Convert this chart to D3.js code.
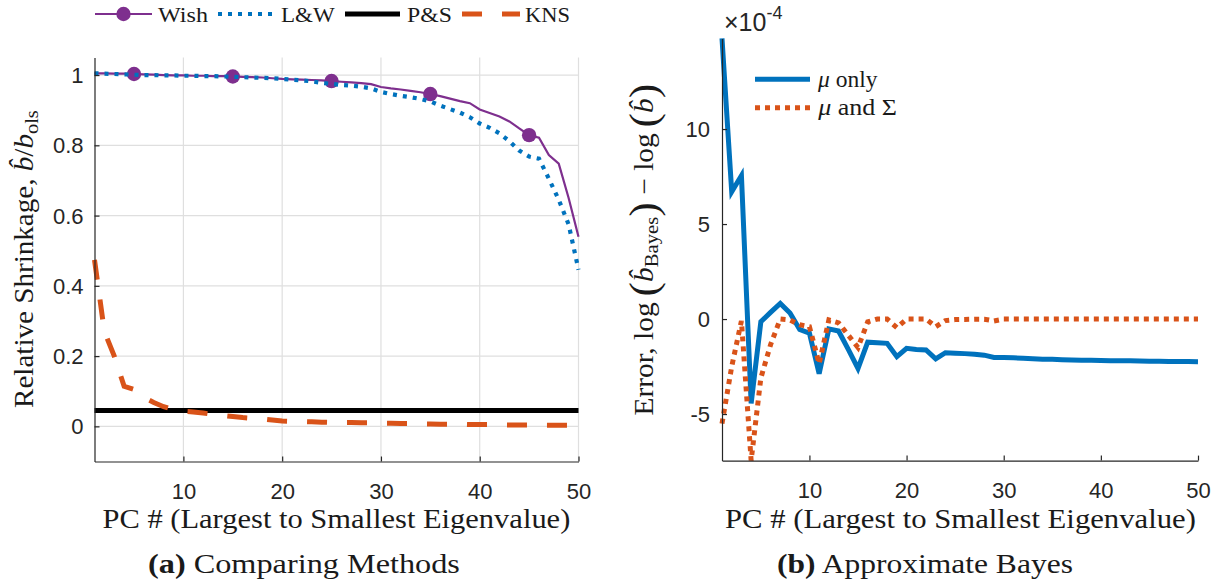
<!DOCTYPE html>
<html><head><meta charset="utf-8">
<script src="https://cdn.jsdelivr.net/npm/d3@7"></script>
<style>body{margin:0;background:#fff}svg{display:block}</style>
</head><body>
<svg id="c" width="1223" height="586"></svg>
<script>
// ---------- data ----------
const pcNumbers = d3.range(1, 51);
const wish = [1.005,1.005,1.004,1.004,1.003,1.002,1.001,1.000,0.999,0.999,
  0.998,0.998,0.997,0.997,0.996,0.995,0.994,0.993,0.991,0.989,
  0.988,0.987,0.986,0.985,0.983,0.981,0.979,0.977,0.974,0.966,
  0.962,0.959,0.955,0.951,0.946,0.940,0.933,0.926,0.920,0.902,
  0.892,0.882,0.868,0.848,0.829,0.822,0.772,0.748,0.650,0.540];
const wishMarkerPC = [5, 15, 25, 35, 45];
const lw = [1.005,1.004,1.003,1.002,1.001,1.000,1.000,0.999,0.999,0.998,
  0.998,0.997,0.997,0.996,0.995,0.994,0.993,0.992,0.991,0.989,
  0.987,0.985,0.982,0.978,0.975,0.972,0.970,0.967,0.962,0.952,
  0.946,0.941,0.937,0.932,0.925,0.913,0.903,0.893,0.880,0.862,
  0.850,0.834,0.812,0.785,0.768,0.762,0.705,0.645,0.575,0.446];
const pnsPC = [1, 50];
const pns = [0.045, 0.045];
const kns = [0.474,0.27,0.20,0.114,0.105,0.082,0.068,0.056,0.048,0.043,
  0.041,0.038,0.034,0.031,0.028,0.025,0.023,0.021,0.018,0.015,
  0.014,0.014,0.013,0.012,0.011,0.011,0.011,0.010,0.010,0.009,
  0.009,0.008,0.008,0.007,0.007,0.006,0.006,0.006,0.005,0.005,
  0.005,0.004,0.004,0.004,0.004,0.003,0.003,0.003,0.003,0.003];
// right panel, in units of 1e-4
const muOnly = [14.77,6.7,7.55,-4.44,-0.14,0.35,0.82,0.32,-0.55,-0.74,
  -2.88,-0.52,-0.63,-1.6,-2.6,-1.22,-1.25,-1.28,-1.98,-1.54,
  -1.6,-1.63,-2.1,-1.77,-1.8,-1.82,-1.85,-1.9,-2.02,-2.02,
  -2.04,-2.06,-2.09,-2.12,-2.12,-2.14,-2.16,-2.17,-2.17,-2.18,
  -2.19,-2.2,-2.2,-2.21,-2.22,-2.22,-2.23,-2.24,-2.24,-2.25];
const muSigma = [-5.5,-2.5,-0.1,-7.45,-3.1,-1.35,0,-0.05,-0.3,-0.4,
  -2.35,-0.05,-0.2,-0.85,-1.5,-0.15,0,0,-0.45,0,
  0,0,-0.4,-0.08,-0.03,-0.02,-0.01,-0.01,-0.1,0,
  0,0,0,0,0,0,0,0,0,0,
  0,0,0,0,0,0,0,0,0,0];
const xTicks = [10, 20, 30, 40, 50];
const yTicksA = [0, 0.2, 0.4, 0.6, 0.8, 1];
const yTickLabelsA = ["0", "0.2", "0.4", "0.6", "0.8", "1"];
const yTicksB = [-5, 0, 5, 10];
const yTickLabelsB = ["-5", "0", "5", "10"];
const legendA = ["Wish", "L&W", "P&S", "KNS"];

// ---------- setup ----------
const svg = d3.select("#c");
const serif = "'Liberation Serif','Times New Roman',serif";
const sans = "'Liberation Sans',Arial,Helvetica,sans-serif";
const axisCol = "#262626";
const C = {purple:"#7E2F8E", blue:"#0072BD", orange:"#D95319", black:"#000"};

const xA = d3.scaleLinear().domain([1, 50]).range([94.5, 578.5]);
const yA = d3.scaleLinear().domain([-0.1, 1.05]).range([461.5, 57.5]);
const xB = d3.scaleLinear().domain([1, 50]).range([722, 1198]);
const yB = d3.scaleLinear().domain([-7.45, 14.77]).range([460.6, 38.4]);

function placeText(parent, cx, base, rot, targetW, size, family, build) {
  const t = parent.append("text").attr("font-family", family).attr("font-size", size)
    .attr("fill", "#1a1a1a");
  build(t);
  const bb = t.node().getBBox();
  const s = targetW ? targetW / bb.width : 1;
  t.attr("transform", `translate(${cx},${base}) rotate(${rot}) scale(${s},1) translate(${-(bb.x + bb.width / 2)},0)`);
  return t;
}

// ---------- panel A ----------
const gA = svg.append("g");
gA.selectAll(".gx").data(xTicks).join("line")
  .attr("x1", d => xA(d)).attr("x2", d => xA(d)).attr("y1", yA.range()[0]).attr("y2", yA.range()[1])
  .attr("stroke", "#dfdfdf").attr("stroke-width", 1.2);
gA.selectAll(".gy").data(yTicksA).join("line")
  .attr("y1", d => yA(d)).attr("y2", d => yA(d)).attr("x1", xA.range()[0]).attr("x2", xA.range()[1])
  .attr("stroke", "#dfdfdf").attr("stroke-width", 1.2);

const lineA = vals => d3.line().x((d, i) => xA(pcNumbers[i])).y(d => yA(d))(vals);
gA.append("path").attr("d", lineA(wish)).attr("fill", "none").attr("stroke", C.purple).attr("stroke-width", 2.2);
gA.selectAll(".wm").data(wishMarkerPC).join("circle")
  .attr("cx", d => xA(d)).attr("cy", d => yA(wish[d - 1])).attr("r", 7.2).attr("fill", C.purple);
gA.append("path").attr("d", lineA(lw)).attr("fill", "none").attr("stroke", C.blue)
  .attr("stroke-width", 4.2).attr("stroke-dasharray", "4,6");
gA.append("path").attr("d", d3.line().x((d, i) => xA(pnsPC[i])).y(d => yA(d))(pns))
  .attr("fill", "none").attr("stroke", C.black).attr("stroke-width", 5);
gA.append("path").attr("d", lineA(kns)).attr("fill", "none").attr("stroke", C.orange)
  .attr("stroke-width", 5).attr("stroke-dasharray", "20,20");

const axA_x = gA.append("g").attr("transform", `translate(0,${yA.range()[0]})`)
  .call(d3.axisBottom(xA).tickValues(xTicks).tickSizeInner(-5).tickSizeOuter(0).tickPadding(22));
const axA_y = gA.append("g").attr("transform", `translate(${xA.range()[0]},0)`)
  .call(d3.axisLeft(yA).tickValues(yTicksA).tickFormat((d, i) => yTickLabelsA[i]).tickSizeInner(-5).tickSizeOuter(0).tickPadding(11));

// ---------- panel B ----------
const gB = svg.append("g");
const lineB = vals => d3.line().x((d, i) => xB(pcNumbers[i])).y(d => yB(d))(vals);
gB.append("path").attr("d", lineB(muOnly)).attr("fill", "none").attr("stroke", C.blue)
  .attr("stroke-width", 5).attr("stroke-linejoin", "miter");
gB.append("path").attr("d", lineB(muSigma)).attr("fill", "none").attr("stroke", C.orange)
  .attr("stroke-width", 5).attr("stroke-dasharray", "5,5");
const axB_x = gB.append("g").attr("transform", `translate(0,${yB.range()[0]})`)
  .call(d3.axisBottom(xB).tickValues(xTicks).tickSizeInner(-5).tickSizeOuter(0).tickPadding(22));
const axB_y = gB.append("g").attr("transform", `translate(${xB.range()[0]},0)`)
  .call(d3.axisLeft(yB).tickValues(yTicksB).tickFormat((d, i) => yTickLabelsB[i]).tickSizeInner(-5).tickSizeOuter(0).tickPadding(12));

[axA_x, axA_y, axB_x, axB_y].forEach(a => {
  a.select(".domain").attr("stroke", axisCol).attr("stroke-width", 1.2);
  a.selectAll(".tick line").attr("stroke", axisCol).attr("stroke-width", 1.2);
  a.selectAll(".tick text").attr("font-family", sans).attr("font-size", 22).attr("fill", axisCol);
});
[axA_y, axB_y].forEach(a => a.selectAll(".tick text").attr("dy", "0.34em"));

// x10^-4
const exp = gB.append("text").attr("x", 724).attr("y", 31).attr("font-family", sans)
  .attr("font-size", 25).attr("fill", axisCol);
exp.append("tspan").text("\u00d710");
exp.append("tspan").attr("font-size", 18).attr("dy", -12).text("-4");

// ---------- legends ----------
const lg = svg.append("g");
const ly = 14;
lg.append("line").attr("x1", 95).attr("x2", 152).attr("y1", ly).attr("y2", ly).attr("stroke", C.purple).attr("stroke-width", 2.2);
lg.append("circle").attr("cx", 123.5).attr("cy", ly).attr("r", 7.2).attr("fill", C.purple);
lg.append("line").attr("x1", 218).attr("x2", 274).attr("y1", ly).attr("y2", ly).attr("stroke", C.blue).attr("stroke-width", 4.2).attr("stroke-dasharray", "4,6");
lg.append("line").attr("x1", 345).attr("x2", 400).attr("y1", ly).attr("y2", ly).attr("stroke", C.black).attr("stroke-width", 5);
lg.append("line").attr("x1", 462).attr("x2", 520).attr("y1", ly).attr("y2", ly).attr("stroke", C.orange).attr("stroke-width", 5).attr("stroke-dasharray", "20,20");
const legX = [[158, 208], [281, 335], [407, 452], [525, 570]];
legendA.forEach((s, i) => {
  placeText(lg, (legX[i][0] + legX[i][1]) / 2, 22, 0, legX[i][1] - legX[i][0], 22, serif, t => t.text(s));
});

lg.append("line").attr("x1", 755).attr("x2", 810).attr("y1", 79.3).attr("y2", 79.3).attr("stroke", C.blue).attr("stroke-width", 5);
lg.append("line").attr("x1", 755).attr("x2", 810).attr("y1", 107.7).attr("y2", 107.7).attr("stroke", C.orange).attr("stroke-width", 5).attr("stroke-dasharray", "5,5");
placeText(lg, (817 + 878) / 2, 86.5, 0, 61, 23, serif, t => {
  t.append("tspan").attr("font-style", "italic").text("\u03bc");
  t.append("tspan").text(" only");
});
placeText(lg, (817 + 897) / 2, 115, 0, 80, 23, serif, t => {
  t.append("tspan").attr("font-style", "italic").text("\u03bc");
  t.append("tspan").text(" and \u03a3");
});

// ---------- axis labels & captions ----------
const lab = svg.append("g");
placeText(lab, 336.5, 528, 0, 468, 27, serif, t => t.text("PC # (Largest to Smallest Eigenvalue)"));
placeText(lab, 960.5, 528, 0, 471, 27, serif, t => t.text("PC # (Largest to Smallest Eigenvalue)"));
placeText(lab, 304, 573, 0, 312, 27, serif, t => {
  t.append("tspan").attr("font-weight", "bold").text("(a)");
  t.append("tspan").text(" Comparing Methods");
});
placeText(lab, 925, 573, 0, 296, 27, serif, t => {
  t.append("tspan").attr("font-weight", "bold").text("(b)");
  t.append("tspan").text(" Approximate Bayes");
});
placeText(lab, 33, 259, -90, 298, 27, serif, t => {
  t.append("tspan").text("Relative Shrinkage, ");
  t.append("tspan").attr("font-style", "italic").text("b\u0302");
  t.append("tspan").text("/");
  t.append("tspan").attr("font-style", "italic").text("b");
  t.append("tspan").attr("font-size", 19).attr("dy", 5).text("ols");
});
placeText(lab, 653, 249.5, -90, 332, 27, serif, t => {
  t.append("tspan").text("Error, log\u2009");
  t.append("tspan").attr("font-size", 40).attr("dy", 4).text("(");
  t.append("tspan").attr("font-style", "italic").attr("dy", -4).text("b\u0302");
  t.append("tspan").attr("font-size", 19).attr("dy", 5).text("Bayes");
  t.append("tspan").attr("font-size", 40).attr("dy", -1).text(")");
  t.append("tspan").attr("dy", -4).text(" \u2212 log\u2009");
  t.append("tspan").attr("font-size", 40).attr("dy", 4).text("(");
  t.append("tspan").attr("font-style", "italic").attr("dy", -4).text("b\u0302");
  t.append("tspan").attr("font-size", 40).attr("dy", 4).text(")");
});
</script>
</body></html>
